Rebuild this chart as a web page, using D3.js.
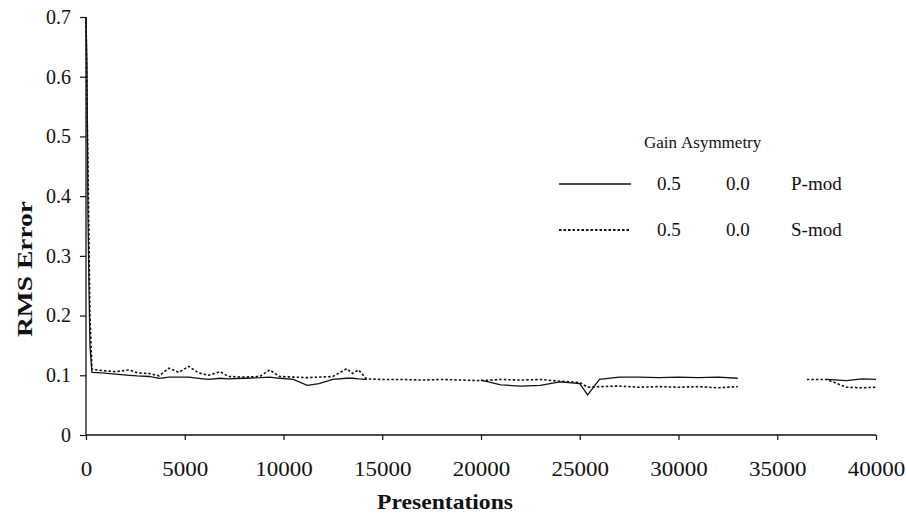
<!DOCTYPE html>
<html>
<head>
<meta charset="utf-8">
<script src="https://cdn.jsdelivr.net/npm/d3@7"></script>
<style>
  html, body { margin: 0; padding: 0; background: #fff; }
  svg { display: block; }
  text { font-family: "Liberation Serif", "Times New Roman", serif; fill: #111; }
</style>
</head>
<body>
<svg id="chart" width="906" height="519"></svg>
<script>
// ---- data ----
const presentations = [0,50,100,150,200,300,800,1500,2200,2600,3200,3700,4200,4700,5200,5700,6200,6800,7200,8000,8800,9300,9800,10500,11200,11800,12500,13200,13500,13800,14200,15000,16000,17000,18000,19000,20000,21000,22000,23000,24000,25000,25400,26000,27000,28000,29000,30000,31000,32000,33000,34000,36500,37500,38500,39300,40000];
const pMod = [0.70,0.62,0.37,0.25,0.15,0.105,0.104,0.102,0.100,0.099,0.098,0.095,0.097,0.097,0.097,0.095,0.093,0.095,0.094,0.095,0.096,0.097,0.095,0.093,0.083,0.086,0.093,0.095,0.095,0.094,0.093,null,null,null,null,null,0.092,0.084,0.082,0.083,0.089,0.086,0.067,0.093,0.097,0.097,0.096,0.097,0.096,0.097,0.095,null,null,0.093,0.091,0.094,0.093];
const sMod = [0.70,0.55,0.45,0.33,0.20,0.110,0.108,0.106,0.109,0.104,0.103,0.099,0.112,0.105,0.115,0.104,0.100,0.106,0.098,0.097,0.098,0.109,0.098,0.097,0.096,0.097,0.098,0.111,0.103,0.109,0.094,0.093,0.093,0.092,0.093,0.092,0.091,0.093,0.092,0.093,0.090,0.088,0.080,0.081,0.082,0.080,0.081,0.080,0.081,0.079,0.081,null,0.093,0.093,0.080,0.079,0.080];
const xTicks = [0,5000,10000,15000,20000,25000,30000,35000,40000];
const yTicks = [0,0.1,0.2,0.3,0.4,0.5,0.6,0.7];
const legendHeader = ["Gain", "Asymmetry"];
const legendRows = [
  {gain: "0.5", asym: "0.0", name: "P-mod", dash: null},
  {gain: "0.5", asym: "0.0", name: "S-mod", dash: "2.5,2"}
];

// ---- drawing ----
const svg = d3.select("#chart");
const x = d3.scaleLinear().domain([0, 40000]).range([86, 876]);
const y = d3.scaleLinear().domain([0, 0.7]).range([435, 17]);

const fmtY = d => d === 0 ? "0" : d3.format(".1f")(d);

const yAxis = svg.append("g")
  .attr("transform", "translate(86,0)")
  .call(d3.axisLeft(y).tickValues(yTicks).tickFormat(fmtY).tickSize(6).tickPadding(9));
yAxis.select(".domain").attr("d", `M-0,${y(0)}V${y(0.7)}`).attr("stroke", "#111").attr("stroke-width", 1.3);
yAxis.selectAll(".tick line").attr("stroke", "#111").attr("stroke-width", 1.2);
yAxis.selectAll(".tick text").attr("font-size", 20).attr("font-family", "Liberation Serif").attr("fill", "#111");

const xAxis = svg.append("g")
  .attr("transform", `translate(0,${y(0)})`)
  .call(d3.axisBottom(x).tickValues(xTicks).tickFormat(d3.format("d")).tickSize(5).tickPadding(22));
xAxis.select(".domain").attr("d", `M${x(0)},0H${x(40000)}`).attr("stroke", "#111").attr("stroke-width", 1.5);
xAxis.selectAll(".tick line").attr("stroke", "#111").attr("stroke-width", 1.2);
xAxis.selectAll(".tick text").attr("font-size", 20).attr("font-family", "Liberation Serif").attr("fill", "#111")
  .attr("textLength", d => String(d).length * 11.5).attr("lengthAdjust", "spacingAndGlyphs");

// series
const line = (vals) => d3.line()
  .defined((d, i) => vals[i] !== null)
  .x((d, i) => x(presentations[i]))
  .y((d, i) => y(vals[i]))(presentations);

svg.append("path").attr("d", line(pMod))
  .attr("fill", "none").attr("stroke", "#111").attr("stroke-width", 1.3);
svg.append("path").attr("d", line(sMod))
  .attr("fill", "none").attr("stroke", "#111").attr("stroke-width", 1.6)
  .attr("stroke-dasharray", "2.5,2");

// axis titles
svg.append("text")
  .attr("transform", "translate(32,269) rotate(-90)")
  .attr("text-anchor", "middle")
  .attr("font-size", 22).attr("font-weight", "bold")
  .attr("textLength", 136).attr("lengthAdjust", "spacingAndGlyphs")
  .text("RMS Error");
svg.append("text")
  .attr("x", 445).attr("y", 509)
  .attr("text-anchor", "middle")
  .attr("font-size", 22).attr("font-weight", "bold")
  .attr("textLength", 136).attr("lengthAdjust", "spacingAndGlyphs")
  .text("Presentations");

// legend
const lg = svg.append("g");
lg.append("text").attr("x", 644).attr("y", 148).attr("font-size", 17).text(legendHeader[0]);
lg.append("text").attr("x", 681).attr("y", 148).attr("font-size", 17).text(legendHeader[1]);
legendRows.forEach((r, i) => {
  const cy = 184 + i * 46;
  lg.append("line").attr("x1", 559).attr("x2", 631).attr("y1", cy).attr("y2", cy)
    .attr("stroke", "#111").attr("stroke-width", r.dash ? 2 : 1.3)
    .attr("stroke-dasharray", r.dash);
  lg.append("text").attr("x", 657).attr("y", cy + 6).attr("font-size", 19).text(r.gain);
  lg.append("text").attr("x", 726).attr("y", cy + 6).attr("font-size", 19).text(r.asym);
  lg.append("text").attr("x", 791).attr("y", cy + 6).attr("font-size", 19).text(r.name);
});
</script>
</body>
</html>
